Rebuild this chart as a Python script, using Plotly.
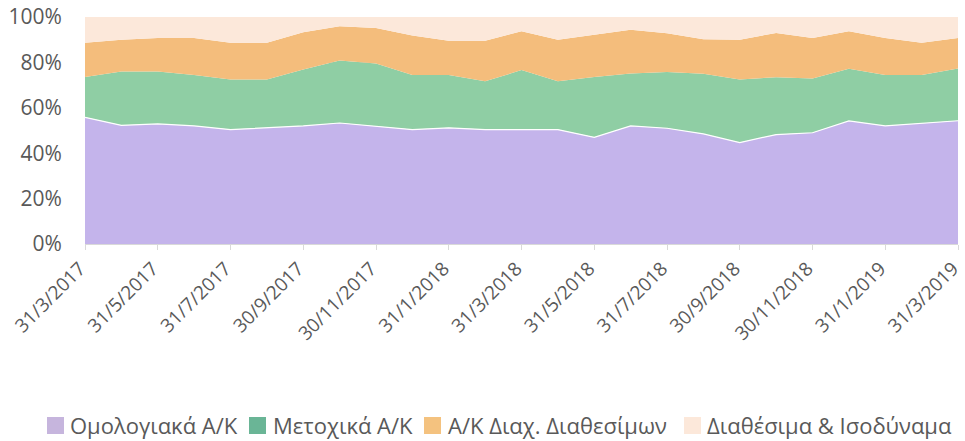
import plotly.graph_objects as go

dates = ["31/3/2017","30/4/2017","31/5/2017","30/6/2017","31/7/2017","31/8/2017","30/9/2017",
         "31/10/2017","30/11/2017","31/12/2017","31/1/2018","28/2/2018","31/3/2018","30/4/2018",
         "31/5/2018","30/6/2018","31/7/2018","31/8/2018","30/9/2018","31/10/2018","30/11/2018",
         "31/12/2018","31/1/2019","28/2/2019","31/3/2019"]

# cumulative tops (percent)
bond_top  = [55.8,52.3,52.9,52.0,50.4,51.2,52.0,53.3,52.0,50.4,51.2,50.4,50.4,50.4,47.0,52.0,51.0,48.5,44.7,48.2,49.0,54.2,52.0,53.3,54.3]
equity_top= [73.6,76.0,76.0,74.5,72.5,72.5,76.9,80.8,79.5,74.4,74.4,71.7,76.6,71.7,73.6,75.1,75.8,75.0,72.5,73.5,72.9,77.2,74.5,74.5,77.3]
mm_top    = [88.7,90.0,90.8,90.8,88.7,88.7,93.3,95.9,95.2,91.9,89.5,89.5,93.7,90.0,92.2,94.4,92.8,90.2,90.0,93.0,90.8,93.7,90.8,88.7,90.8]

bond   = bond_top
equity = [e - b for e, b in zip(equity_top, bond_top)]
mm     = [m - e for m, e in zip(mm_top, equity_top)]
cash   = [100 - m for m in mm_top]

names  = ["Ομολογιακά Α/Κ", "Μετοχικά Α/Κ", "Α/Κ Διαχ. Διαθεσίμων", "Διαθέσιμα & Ισοδύναμα"]
series = [bond, equity, mm, cash]
colors = ["#c4b4eb", "#8fcea4", "#f4bd7c", "#fce8da"]
legend_colors = ["#c6b5dd", "#6ab596", "#f4c27f", "#fce8da"]
tick_labels = dates[::2]
y_ticks = [0, 20, 40, 60, 80, 100]
y_text = [f"{v}%" for v in y_ticks]

W, H = 965, 441
L, R, T, B = 85, 7, 17, 197
pw, ph = W - L - R, H - T - B

def px2x(px):
    return (px - L) / pw

def px2y(py):
    return (H - B - py) / ph

fig = go.Figure()
for i, (n, s, c) in enumerate(zip(names, series, colors)):
    fig.add_trace(go.Scatter(
        x=dates, y=s, name=n, mode="lines", stackgroup="one",
        fillcolor=c,
        line=dict(color="white" if i == 0 else c, width=1.2 if i == 0 else 0),
        showlegend=False, hoverinfo="skip"))

# legend drawn as swatches + text (positions in pixels)
sw_left = [47, 249, 424, 684]
txt_left = [69, 272, 447, 706]
for n, c, sx, tx in zip(names, legend_colors, sw_left, txt_left):
    fig.add_shape(type="rect", xref="paper", yref="paper",
                  x0=px2x(sx), x1=px2x(sx + 17), y0=px2y(434), y1=px2y(417),
                  fillcolor=c, line=dict(width=0))
    fig.add_annotation(text=n, xref="paper", yref="paper", x=px2x(tx - 1), y=px2y(425),
                       xanchor="left", yanchor="middle", showarrow=False,
                       font=dict(size=22, color="#595959"))

font = "Open Sans"
fig.update_layout(
    width=W, height=H,
    margin=dict(l=L, r=R, t=T, b=B),
    plot_bgcolor="white", paper_bgcolor="white",
    font=dict(family=font, color="#595959", size=20),
    showlegend=False,
)
fig.update_xaxes(
    type="category", range=[0, len(dates) - 1], automargin=False,
    tickmode="array", tickvals=tick_labels, ticktext=tick_labels,
    tickangle=-45, showgrid=False, showline=True, linecolor="#d9d9d9", linewidth=1,
    ticks="outside", ticklen=5, tickcolor="#d9d9d9", ticklabelshift=-5,
    tickfont=dict(size=19, color="#595959"),
)
fig.update_yaxes(
    range=[0, 100], tickmode="array", tickvals=y_ticks, ticktext=y_text, automargin=False,
    showgrid=True, gridcolor="#d9d9d9", gridwidth=1, zeroline=False,
    ticks="outside", ticklen=18, tickcolor="rgba(0,0,0,0)",
    showline=False, tickfont=dict(size=21, color="#595959"),
)
fig.write_html("out.html", config={"displayModeBar": False},
               post_script="document.body.style.margin='0';document.body.style.padding='0';")
